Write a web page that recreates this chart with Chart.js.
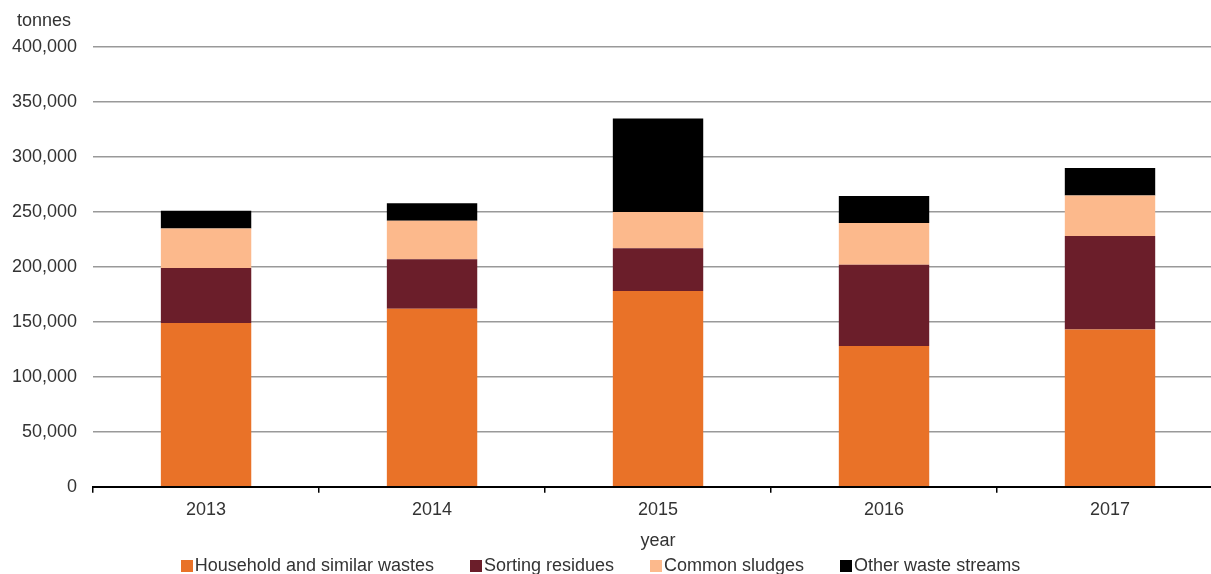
<!DOCTYPE html>
<html>
<head>
<meta charset="utf-8">
<script src="https://cdn.jsdelivr.net/npm/chart.js@4.4.0/dist/chart.umd.min.js"></script>
<style>
    html, body { margin: 0; padding: 0; background: #fff; overflow: hidden; }
    #wrap { position: relative; width: 1211px; height: 574px; overflow: hidden; }
    #box { position: absolute; left: 0; top: 0; width: 1223px; height: 556px; }
    #legend {
        position: absolute; left: 0; top: 555px; width: 1201px;
        text-align: center; white-space: nowrap;
        font-family: "Liberation Sans", Arial, sans-serif; font-size: 18px; color: #333;
    }
    #legend span.item { display: inline-block; margin: 0 18px; }
    #legend span.sw { display: inline-block; width: 12px; height: 12px; margin-right: 2px; vertical-align: -1px; }
</style>
</head>
<body>
<div id="wrap">
    <div id="box"><canvas id="chart"></canvas></div>
    <div id="legend"></div>
</div>
<script>
const years = ['2013', '2014', '2015', '2016', '2017'];
const household = [149000, 162000, 178000, 128000, 143000];
const sorting = [50000, 45000, 39000, 74000, 85000];
const sludges = [36000, 35000, 33000, 38000, 37000];
const other = [16000, 16000, 85000, 24500, 25000];
const yTicks = [0, 50000, 100000, 150000, 200000, 250000, 300000, 350000, 400000];

const textColor = '#333333';
const font = { family: '"Liberation Sans", Arial, sans-serif', size: 18 };

// "tonnes" label above the y axis
const unitLabel = {
    id: 'unitLabel',
    afterDraw(chart) {
        const ctx = chart.ctx;
        ctx.save();
        ctx.font = '18px "Liberation Sans", Arial, sans-serif';
        ctx.fillStyle = textColor;
        ctx.textBaseline = 'middle';
        ctx.textAlign = 'left';
        ctx.fillText('tonnes', 17, 21);
        ctx.restore();
    }
};

const datasets = [
    { label: 'Household and similar wastes', data: household, backgroundColor: '#E97228' },
    { label: 'Sorting residues', data: sorting, backgroundColor: '#6B1E2A' },
    { label: 'Common sludges', data: sludges, backgroundColor: '#FCB98C' },
    { label: 'Other waste streams', data: other, backgroundColor: '#000000' }
];

const chart = new Chart(document.getElementById('chart'), {
    type: 'bar',
    data: { labels: years, datasets: datasets },
    options: {
        responsive: true,
        maintainAspectRatio: false,
        animation: false,
        layout: { padding: { top: 47, left: -4, right: 0, bottom: 4 } },
        datasets: { bar: { barPercentage: 0.4, categoryPercentage: 1, borderWidth: 0 } },
        plugins: {
            legend: { display: false },
            tooltip: { enabled: false }
        },
        scales: {
            x: {
                stacked: true,
                border: { display: true, color: '#000', width: 2 },
                grid: { drawOnChartArea: false, drawTicks: true, tickLength: 6, color: '#000', lineWidth: 1.5 },
                ticks: { color: textColor, font: font, padding: 6 },
                title: { display: true, text: 'year', color: textColor, font: font, padding: { top: 4, bottom: 0 } }
            },
            y: {
                stacked: true,
                min: 0,
                max: 400000,
                afterBuildTicks(scale) { scale.ticks = yTicks.map(v => ({ value: v })); },
                border: { display: false },
                grid: { drawTicks: false, color: '#999999', lineWidth: 1.5 },
                ticks: {
                    color: textColor, font: font, padding: 16,
                    callback: v => v.toLocaleString('en-US')
                }
            }
        }
    },
    plugins: [unitLabel]
});

// legend built from the datasets
const legend = document.getElementById('legend');
datasets.forEach(ds => {
    const item = document.createElement('span');
    item.className = 'item';
    item.innerHTML = `<span class="sw" style="background:${ds.backgroundColor}"></span>${ds.label}`;
    legend.appendChild(item);
});
</script>
</body>
</html>
